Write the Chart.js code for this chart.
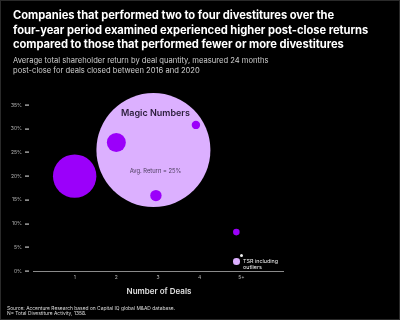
<!DOCTYPE html>
<html>
<head>
<meta charset="utf-8">
<script src="https://cdn.jsdelivr.net/npm/chart.js@4.4.1/dist/chart.umd.min.js"></script>
<style>
  html, body { margin: 0; padding: 0; background: #000; }
  #wrap { position: relative; width: 400px; height: 320px; background: #000; overflow: hidden; box-sizing: border-box; border: 1px solid #2a2a2a; font-family: Inter, "Open Sans", sans-serif; }
  #c { position: absolute; left: -1px; top: -1px; }
  .t { position: absolute; white-space: nowrap; }
  #title { left: 12px; top: 7px; color: #fff; font-weight: 700; font-size: 11.2px; line-height: 14.6px; letter-spacing: -0.05px; }
  #sub { left: 12px; top: 55px; color: #cfcfcf; font-size: 7.6px; line-height: 10px; }
  #xtitle { left: 158px; top: 285px; transform: translateX(-50%); color: #e0e0e0; font-size: 8px; font-weight: 600; }
  #src { left: 6px; top: 305px; color: #ddd; font-size: 4.9px; line-height: 5.4px; }
  #leg { left: 242px; top: 257px; color: #eee; font-size: 5.4px; line-height: 6.4px; }
  .dot { position: absolute; border-radius: 50%; }
</style>
</head>
<body>
<div id="wrap">
  <canvas id="c" width="400" height="320"></canvas>
  <div class="t" id="title">Companies that performed two to four divestitures over the<br>four-year period examined experienced higher post-close returns<br>compared to those that performed fewer or more divestitures</div>
  <div class="t" id="sub">Average total shareholder return by deal quantity, measured 24 months<br>post-close for deals closed between 2016 and 2020</div>
  <div class="t" id="xtitle">Number of Deals</div>
  <div class="t" id="src">Source: Accenture Research based on Capital IQ global M&amp;AD database.<br>N= Total Divestiture Activity, 1358.</div>
  <div class="dot" style="left:238.5px;top:252.5px;width:3px;height:3px;background:#eee;"></div>
  <div class="dot" style="left:232px;top:257.4px;width:6.6px;height:6.6px;background:#dcb0ff;"></div>
  <div class="t" id="leg">TSR including<br>outliers</div>
</div>
<script>
// ---- data ----
const dealCounts   = [1, 2, 2.95, 3.91, 4.88];     // x (number of deals)
const tsrValues    = [20, 27.1, 15.9, 30.8, 8.2];  // y (% return)
const bubbleSizes  = [21.7, 9.5, 5.7, 4.2, 3.3];   // bubble radius
const magicX = [2.89];
const magicY = [25.5];
const magicR = [57];
const xTickLabels = ['', '1', '2', '3', '4', '5+', ''];
const yTickValues = [0, 5, 10, 15, 20, 25, 30, 35];
const magicTitle = 'Magic Numbers';
const magicNote = 'Avg. Return = 25%';

const purplePts = dealCounts.map((x, i) => ({ x, y: tsrValues[i], r: bubbleSizes[i] }));
const magicPts = magicX.map((x, i) => ({ x, y: magicY[i], r: magicR[i] }));

const magicLabel = {
  id: 'magicLabel',
  afterDatasetsDraw(chart) {
    const xs = chart.scales.x, ys = chart.scales.y;
    const cx = xs.getPixelForValue(magicX[0]);
    const cy = ys.getPixelForValue(magicY[0]);
    const ctx = chart.ctx;
    ctx.save();
    ctx.textAlign = 'center';
    ctx.textBaseline = 'middle';
    ctx.fillStyle = '#2a1c3a';
    ctx.font = '600 9px Inter, "Open Sans", sans-serif';
    ctx.fillText(magicTitle, cx + 2, cy - 36.5);
    ctx.fillStyle = '#4b3d5c';
    ctx.font = '5.8px Inter, "Open Sans", sans-serif';
    ctx.fillText(magicNote, cx + 2, cy + 21);
    ctx.restore();
  }
};

const yTickDashes = {
  id: 'yTickDashes',
  afterDraw(chart) {
    const ys = chart.scales.y;
    const left = chart.chartArea.left;
    const ctx = chart.ctx;
    ctx.save();
    ctx.fillStyle = '#c4c4c4';
    yTickValues.forEach(v => {
      const y = Math.round(ys.getPixelForValue(v));
      ctx.fillRect(left - 8, y - 0.5, 4, 1.2);
    });
    ctx.restore();
  }
};

new Chart(document.getElementById('c'), {
  type: 'bubble',
  data: {
    datasets: [
      { data: purplePts, backgroundColor: '#9b00fa', borderWidth: 0, hoverBorderWidth: 0, clip: false, order: 1 },
      { data: magicPts, backgroundColor: '#dcb0ff', borderWidth: 0, hoverBorderWidth: 0, clip: false, order: 2 }
    ]
  },
  options: {
    responsive: false,
    animation: false,
    events: [],
    layout: { autoPadding: false, padding: { top: 105, right: 117, bottom: 0, left: 0 } },
    plugins: { legend: { display: false }, tooltip: { enabled: false } },
    scales: {
      x: {
        type: 'linear', min: 0, max: 6,
        afterFit(s) { s.height = 49; },
        grid: { display: false, drawTicks: false },
        border: { display: true, color: '#8a8a8a', width: 1 },
        ticks: {
          stepSize: 1, padding: 3, color: '#b4b4b4',
          font: { size: 5, family: 'Inter, "Open Sans", sans-serif' },
          callback: (v) => xTickLabels[v] ?? ''
        }
      },
      y: {
        type: 'linear', min: 0, max: 35,
        afterFit(s) { s.width = 33; },
        afterBuildTicks(s) { s.ticks = yTickValues.map(v => ({ value: v })); },
        grid: { display: false, drawTicks: false },
        border: { display: false },
        ticks: {
          padding: 11, color: '#b4b4b4',
          font: { size: 5, family: 'Inter, "Open Sans", sans-serif' },
          callback: (v) => v + '%'
        }
      }
    }
  },
  plugins: [magicLabel, yTickDashes]
});
</script>
</body>
</html>
